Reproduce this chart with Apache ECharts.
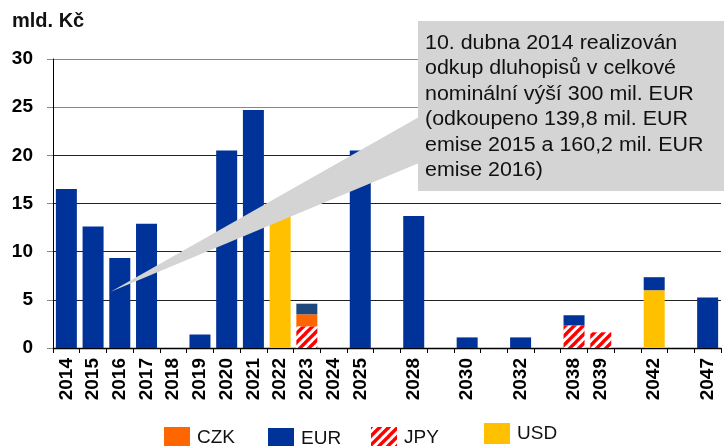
<!DOCTYPE html>
<html>
<head>
<meta charset="utf-8">
<script src="https://cdn.jsdelivr.net/npm/echarts@6/dist/echarts.min.js"></script>
<style>
  html, body { margin: 0; padding: 0; background: #fff; }
  #chart { width: 724px; height: 446px; }
</style>
</head>
<body>
<div id="chart"></div>
<script>
// splatnost dluhopisu podle men (mld. Kc)
var years = ['2014', '2015', '2016', '2017', '2018', '2019', '2020', '2021', '2022', '2023', '2024', '2025',
  '', '2028', '', '2030', '', '2032', '', '2038', '2039', '', '2042', '', '2047']
var eur = [16.5, 12.6, 9.35, 12.9, '-', 1.4, 20.5, 24.7, '-', 1.1, '-', 20.5,
  '-', 13.7, '-', 1.1, '-', 1.1, '-', 1.05, '-', '-', 1.35, '-', 5.25]
var czk = ['-', '-', '-', '-', '-', '-', '-', '-', '-', 1.25, '-', '-',
  '-', '-', '-', '-', '-', '-', '-', '-', '-', '-', '-', '-', '-']
var jpy = ['-', '-', '-', '-', '-', '-', '-', '-', '-', 2.25, '-', '-',
  '-', '-', '-', '-', '-', '-', '-', 2.35, 1.63, '-', '-', '-', '-']
var usd = ['-', '-', '-', '-', '-', '-', '-', '-', 14.3, '-', '-', '-',
  '-', '-', '-', '-', '-', '-', '-', '-', '-', '-', 6.0, '-', '-']
var yTicks = [0, 5, 10, 15, 20, 25, 30]

var calloutLines = [
  '10. dubna 2014 realizován',
  'odkup dluhopisů v celkové',
  'nominální výší 300 mil. EUR',
  '(odkoupeno 139,8 mil. EUR',
  'emise 2015 a 160,2 mil. EUR',
  'emise 2016)'
]

var FONT = '"Liberation Sans", Arial, sans-serif'

function stripes() {
  var n = 9
  var c = document.createElement('canvas')
  c.width = n
  c.height = n
  var ctx = c.getContext('2d')
  ctx.fillStyle = '#fff'
  ctx.fillRect(0, 0, n, n)
  ctx.strokeStyle = '#ff0000'
  ctx.lineWidth = 3.4
  var offs = [-n, 0, n]
  offs.forEach(function(o) {
    ctx.beginPath()
    ctx.moveTo(o - 1, n + 1)
    ctx.lineTo(o + n + 1, -1)
    ctx.stroke()
  })
  return { image: c, repeat: 'repeat' }
}

var chart = echarts.init(document.getElementById('chart'))

function legendAt(name, left, top) {
  return {
    data: [name],
    left: left,
    top: top,
    padding: 0,
    itemWidth: 26,
    itemHeight: 21,
    itemGap: 0,
    selectedMode: false,
    icon: 'rect',
    textStyle: { fontFamily: FONT, fontSize: 19, color: '#111', padding: [8, 0, 0, 2] }
  }
}

chart.setOption({
  backgroundColor: '#fff',
  animation: false,
  title: {
    text: 'mld. Kč',
    left: 12,
    top: 11,
    padding: 0,
    textStyle: { fontFamily: FONT, fontSize: 20, fontWeight: 'bold', color: '#111' }
  },
  legend: [
    legendAt('CZK', 164, 427),
    legendAt('EUR', 268, 428),
    legendAt('JPY', 371, 427),
    legendAt('USD', 484, 423)
  ],
  grid: { left: 53, right: 3, top: 59, bottom: 98 },
  xAxis: {
    type: 'category',
    data: years,
    axisLine: { lineStyle: { color: '#000', width: 1.3 } },
    axisTick: { show: true, length: 5, lineStyle: { color: '#000' } },
    axisLabel: {
      interval: 0,
      rotate: 90,
      margin: 10,
      fontFamily: FONT,
      fontSize: 19,
      fontWeight: 'bold',
      color: '#000'
    }
  },
  yAxis: {
    type: 'value',
    min: yTicks[0],
    max: yTicks[yTicks.length - 1],
    interval: 5,
    axisLine: { show: true, lineStyle: { color: '#000' } },
    axisTick: { show: true, length: 6, lineStyle: { color: '#888' } },
    axisLabel: {
      margin: 20,
      fontFamily: FONT,
      fontSize: 19,
      fontWeight: 'bold',
      color: '#000'
    },
    splitLine: {
      lineStyle: { color: ['#000', '#222', '#222', '#222', '#222', '#888', '#888'] }
    }
  },
  series: [
    {
      name: 'JPY', type: 'bar', stack: 'mena', barWidth: 21,
      itemStyle: { color: stripes() },
      data: jpy
    },
    {
      name: 'USD', type: 'bar', stack: 'mena', barWidth: 21,
      itemStyle: { color: '#ffc000' },
      data: usd
    },
    {
      name: 'CZK', type: 'bar', stack: 'mena', barWidth: 21,
      itemStyle: { color: '#ff6600' },
      data: czk
    },
    {
      name: 'EUR', type: 'bar', stack: 'mena', barWidth: 21,
      itemStyle: { color: '#003399' },
      data: eur.map(function(v, i) {
        return years[i] === '2023' ? { value: v, itemStyle: { color: '#1f497d' } } : v
      })
    }
  ],
  graphic: [
    {
      type: 'polygon',
      z: 100,
      shape: { points: [[110.7, 291.7], [419, 117], [419, 163]] },
      style: { fill: '#d4d4d4' }
    },
    {
      type: 'rect',
      z: 100,
      shape: { x: 418, y: 21, width: 320, height: 170 },
      style: { fill: '#d4d4d4' }
    },
    {
      type: 'text',
      z: 101,
      x: 425,
      y: 30.5,
      scaleX: 1.07,
      style: {
        text: calloutLines.join('\n'),
        font: '20px ' + FONT,
        lineHeight: 25.5,
        verticalAlign: 'top',
        fill: '#111'
      }
    }
  ]
})
</script>
</body>
</html>
